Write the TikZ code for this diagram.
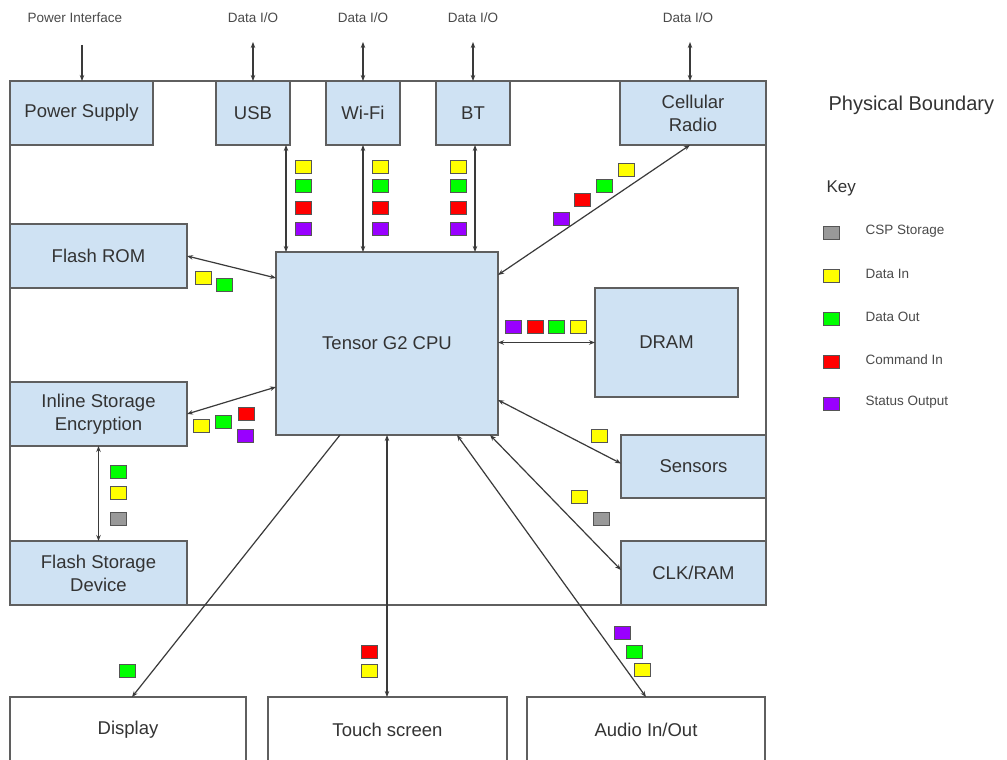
\documentclass[tikz,border=0pt]{standalone}
\usepackage{fontspec}
\setmainfont{Liberation Sans}
\usetikzlibrary{arrows.meta,calc}
\definecolor{boxblue}{HTML}{CFE2F3}
\definecolor{edgegray}{HTML}{5F5F5F}
\definecolor{linec}{HTML}{3A3A3A}
\definecolor{txt}{HTML}{333333}
\definecolor{ltxt}{HTML}{4A4A4A}
\definecolor{sqedge}{HTML}{555555}
\definecolor{sqyellow}{HTML}{FFFF00}
\definecolor{sqgreen}{HTML}{00FF00}
\definecolor{sqred}{HTML}{FF0000}
\definecolor{sqpurple}{HTML}{9900FF}
\definecolor{sqgray}{HTML}{999999}
\begin{document}
\begin{tikzpicture}[x=1pt,y=-1pt,
  >={Stealth[length=6pt,width=4.5pt]},
  box/.style={draw=edgegray, line width=1.6pt, fill=boxblue, inner sep=0pt, outer sep=0pt,
    align=center, text=txt, font=\fontsize{18.5}{23}\selectfont},
  wbox/.style={box, fill=white},
  boundary/.style={draw=edgegray, line width=1.6pt, inner sep=0pt, outer sep=0pt},
  conn/.style={draw=linec, line width=1.2pt},
  sq/.style={draw=sqedge, line width=0.9pt, minimum width=16pt, minimum height=13pt, inner sep=0pt},
  small/.style={font=\fontsize{13.5}{16}\selectfont, text=ltxt},
  legtxt/.style={font=\fontsize{13.5}{16}\selectfont, text=ltxt, anchor=west},
]
\useasboundingbox (0,0) rectangle (1007,760);
\fill[white] (0,0) rectangle (1007,760);

% physical boundary
\node[boundary, minimum width=756pt, minimum height=524pt] (bnd) at (388,343) {};

% boxes
\node[box, minimum width=143pt, minimum height=64pt] (psu) at (81.5,113) {Power Supply};
\node[box, minimum width=74pt, minimum height=64pt] (usb) at (253,113) {USB};
\node[box, minimum width=74pt, minimum height=64pt] (wifi) at (363,113) {Wi-Fi};
\node[box, minimum width=74pt, minimum height=64pt] (bt) at (473,113) {BT};
\node[box, minimum width=146pt, minimum height=64pt] (cell) at (693,113) {Cellular\\Radio};
\node[box, minimum width=177pt, minimum height=64pt] (rom) at (98.5,256) {Flash ROM};
\node[box, minimum width=222pt, minimum height=183pt] (cpu) at (387,343.5) {Tensor G2 CPU};
\node[box, minimum width=143pt, minimum height=109pt] (dram) at (666.5,342.5) {DRAM};
\node[box, minimum width=177pt, minimum height=64pt] (ise) at (98.5,414) {Inline Storage\\Encryption};
\node[box, minimum width=145pt, minimum height=63pt] (sens) at (693.5,466.5) {Sensors};
\node[box, minimum width=145pt, minimum height=64pt] (clk) at (693.5,573) {CLK/RAM};
\node[box, minimum width=177pt, minimum height=64pt] (fsd) at (98.5,573) {Flash Storage\\Device};
\node[wbox, minimum width=236pt, minimum height=66pt] (disp) at (128,730) {Display};
\node[wbox, minimum width=239pt, minimum height=66pt] (touch) at (387.5,730) {Touch screen};
\node[wbox, minimum width=238pt, minimum height=66pt] (audio) at (646,730) {Audio In/Out};

% top labels
\node[small] (lpi) at (75,18) {Power Interface};
\node[small] (lusb) at (253,18) {Data I/O};
\node[small] (lwifi) at (363,18) {Data I/O};
\node[small] (lbt) at (473,18) {Data I/O};
\node[small] (lcell) at (688,18) {Data I/O};
\coordinate (pi) at (82,45);
\coordinate (uio) at (253,42);
\coordinate (wio) at (363,42);
\coordinate (bio) at (473,42);
\coordinate (cio) at (690,42);

% external arrows
\draw[conn,->] (pi) -- (pi |- psu.north);
\draw[conn,<->] (uio) -- (uio |- usb.north);
\draw[conn,<->] (wio) -- (wio |- wifi.north);
\draw[conn,<->] (bio) -- (bio |- bt.north);
\draw[conn,<->] (cio) -- (cio |- cell.north);

% internal connectors
\draw[conn,<->] ([xshift=33pt]usb.south) -- ([xshift=33pt]usb.south |- cpu.north);
\draw[conn,<->] (wifi.south) -- (wifi.south |- cpu.north);
\draw[conn,<->] ([xshift=2pt]bt.south) -- ([xshift=2pt]bt.south |- cpu.north);
\draw[conn,<->] ([xshift=-3pt]cell.south) -- ([yshift=-23pt]cpu.north east);
\draw[conn,<->] (rom.east) -- ([yshift=-26pt]cpu.north west);
\draw[conn,<->] (ise.east) -- ([yshift=48pt]cpu.south west);
\draw[conn,<->] (ise.south) -- (fsd.north);
\draw[conn,<->] (cpu.east |- dram.west) -- (dram.west);
\draw[conn,<->] ([yshift=35pt]cpu.south east) -- ([yshift=3pt]sens.west);
\draw[conn,<->] ([xshift=-8pt]cpu.south east) -- ([yshift=3pt]clk.west);
\draw[conn,<->] ([xshift=-41pt]cpu.south east) -- (audio.north);
\draw[conn,<->] (cpu.south) -- (cpu.south |- touch.north);
\draw[conn,->] ([xshift=-47pt]cpu.south) -- ([xshift=4pt]disp.north);

% data-type squares
\foreach \c/\x/\y [count=\i] in {
  sqyellow/303/167, sqgreen/303/186, sqred/303/208, sqpurple/303/229,
  sqyellow/380/167, sqgreen/380/186, sqred/380/208, sqpurple/380/229,
  sqyellow/458/167, sqgreen/458/186, sqred/458/208, sqpurple/458/229,
  sqyellow/626/170, sqgreen/604/186, sqred/582/200, sqpurple/561/219,
  sqyellow/203/278, sqgreen/224/285,
  sqyellow/201/426, sqgreen/223/422, sqred/246/414, sqpurple/245/436,
  sqgreen/118/472, sqyellow/118/493, sqgray/118/519,
  sqpurple/513/327, sqred/535/327, sqgreen/556/327, sqyellow/578/327,
  sqyellow/599/436,
  sqyellow/579/497, sqgray/601/519,
  sqgreen/127/671,
  sqred/369/652, sqyellow/369/671,
  sqpurple/622/633, sqgreen/634/652, sqyellow/642/670}
  {\node[sq, fill=\c] (s\i) at (\x,\y) {};}

% legend
\node[font=\fontsize{20}{24}\selectfont, text=txt, anchor=west] (pb) at (825,105) {Physical Boundary};
\node[font=\fontsize{17}{20}\selectfont, text=txt, anchor=west] (key) at (823,188) {Key};
\foreach \c/\y/\t [count=\i] in {sqgray/233/CSP Storage, sqyellow/276/Data In, sqgreen/319/Data Out,
  sqred/362/Command In, sqpurple/404/Status Output}
  {\node[sq, fill=\c] (ls\i) at (831,\y) {};
   \node[legtxt] (lt\i) at (862,\y-2) {\t};}
\end{tikzpicture}
\end{document}
